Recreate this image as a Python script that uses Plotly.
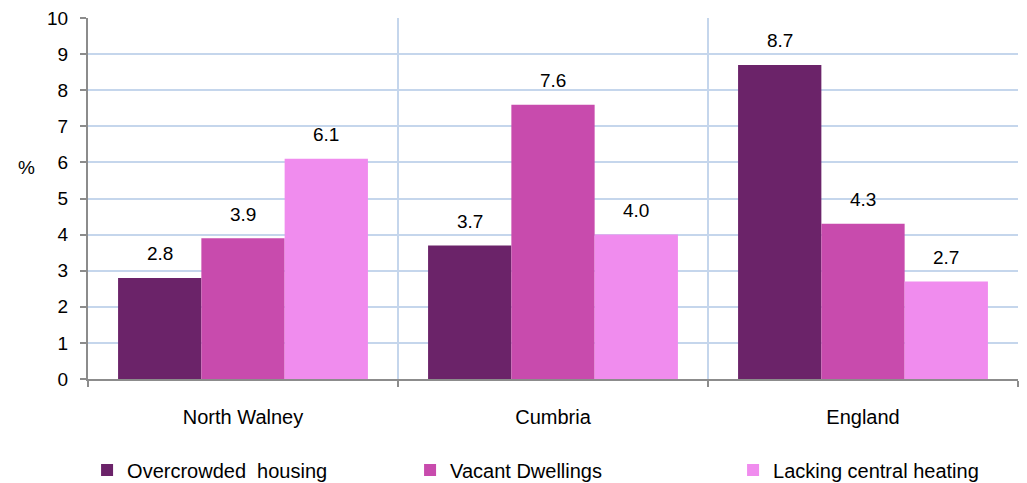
import plotly.graph_objects as go

categories = ["North Walney", "Cumbria", "England"]
overcrowded = [2.8, 3.7, 8.7]
vacant = [3.9, 7.6, 4.3]
lacking = [6.1, 4.0, 2.7]
series_names = ["Overcrowded  housing", "Vacant Dwellings", "Lacking central heating"]
colors = ["#6B2369", "#C84BAD", "#F08CEE"]
y_ticks = list(range(0, 11))

# page body has an 8px default margin; compensate so plot area lands at the reference position
W, H = 1019, 475
ML, MR, MT, MB = 80, 9, 10, 104
BARGAP = 0.194
plot_w = W - ML - MR
bar_px = plot_w / len(categories) * (1 - BARGAP) / 3

FONT = "Liberation Sans, Arial, sans-serif"

fig = go.Figure()
series = [overcrowded, vacant, lacking]
for name, vals, col in zip(series_names, series, colors):
    fig.add_trace(go.Bar(
        x=categories, y=vals, name=name, marker=dict(color=col, line=dict(width=0)),
    ))

annotations = []
for i, vals in enumerate(series):
    for cat, v in zip(categories, vals):
        annotations.append(dict(
            x=cat, y=v, xref="x", yref="y", text=f"{v:.1f}", showarrow=False,
            xshift=(i - 1) * bar_px, yshift=24, yanchor="middle",
            font=dict(family=FONT, size=19, color="#000"),
        ))
annotations.append(dict(text="%", xref="paper", yref="paper", x=-0.0656, y=0.587,
                        showarrow=False, font=dict(family=FONT, size=19, color="#000"),
                        xanchor="center", yanchor="middle"))

fig.update_layout(
    width=W, height=H,
    margin=dict(l=ML, r=MR, t=MT, b=MB, autoexpand=False),
    paper_bgcolor="white", plot_bgcolor="white",
    barmode="group", bargap=BARGAP, bargroupgap=0,
    font=dict(family=FONT, size=19, color="#000"),
    legend=dict(orientation="h", x=-0.001, xanchor="left", y=-0.252, yanchor="middle",
                font=dict(family=FONT, size=20, color="#000"),
                entrywidth=278, entrywidthmode="pixels", itemwidth=30,
                traceorder="normal", bgcolor="rgba(0,0,0,0)"),
    xaxis=dict(tickson="boundaries", showgrid=True, gridcolor="#C5D6EC", gridwidth=2,
               showline=True, linecolor="#8C8C8C", linewidth=2,
               ticks="outside", ticklen=6, tickcolor="#8C8C8C", tickwidth=2,
               tickfont=dict(family=FONT, size=20), ticklabelstandoff=19),
    yaxis=dict(range=[0, 10], tickvals=y_ticks, showgrid=True, gridcolor="#C5D6EC", gridwidth=2,
               showline=True, linecolor="#8C8C8C", linewidth=2, zeroline=False,
               ticks="outside", ticklen=6, tickcolor="#8C8C8C", tickwidth=2,
               tickfont=dict(family=FONT, size=19), ticklabelstandoff=8,
               ticklabeloverflow="allow"),
    annotations=annotations,
)
fig.write_html("out.html")
